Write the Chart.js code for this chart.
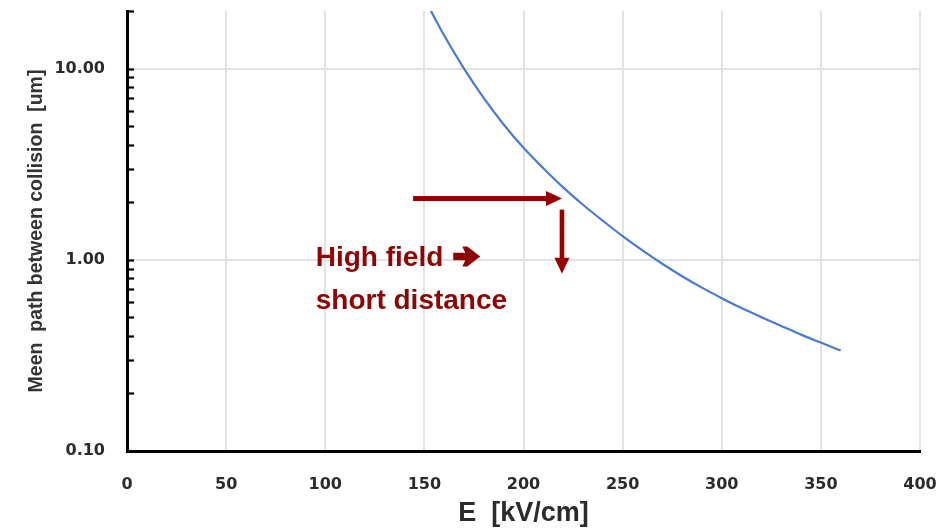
<!DOCTYPE html>
<html>
<head>
<meta charset="utf-8">
<script src="https://cdn.jsdelivr.net/npm/chart.js@4/dist/chart.umd.min.js"></script>
<style>
  html, body { margin: 0; padding: 0; background: #ffffff; }
  #wrap { width: 945px; height: 528px; }
</style>
</head>
<body>
<div id="wrap"><canvas id="c" width="945" height="528"></canvas></div>
<script>
// Electric field [kV/cm] and mean path between collisions [um]
const fieldKVcm = [153, 160, 170, 180, 190, 200, 210, 220, 230, 240, 250, 260, 270, 280, 290, 300, 310, 320, 330, 340, 350, 360];
const meanPathUm = [20.3, 14.9, 10.0, 7.0, 5.1, 3.85, 3.01, 2.39, 1.94, 1.60, 1.33, 1.12, 0.953, 0.82, 0.715, 0.63, 0.559, 0.501, 0.451, 0.406, 0.369, 0.335];

// Axis ranges and labelled ticks
const xMin = 0, xMax = 400, xStep = 50;
const yMin = 0.1, yMax = 20;
const yMajorTicks = [0.1, 1, 10];

// Callout: arrow from the field axis towards the curve, then down to the path value
const calloutY = 2.09;          // horizontal arrow height [um]
const calloutFrom = 144.3;      // arrow start [kV/cm]
const calloutAt = 219.4;        // arrow tip / drop point [kV/cm]
const dropFrom = 1.83, dropTo = 0.845;
const noteLines = ['High field', 'short distance'];
const noteX = 95.2;
const noteBaselines = [0.923, 0.552];

const RED = '#970000';
const TXT_RED = '#8e0505';

const minorTicks = {
  id: 'minorTicks',
  afterDatasetsDraw(chart) {
    const y = chart.scales.y, area = chart.chartArea, ctx = chart.ctx;
    ctx.save();
    ctx.strokeStyle = '#000';
    ctx.lineWidth = 2.2;
    for (const d of [0.1, 1, 10]) {
      for (let k = 1; k <= 9; k++) {
        const v = +(d * k).toPrecision(3);
        if (v <= yMin || v > yMax + 1e-9) continue;
        const py = Math.round(y.getPixelForValue(v)) + 0.5;
        ctx.beginPath();
        ctx.moveTo(area.left, py);
        ctx.lineTo(area.left + 7, py);
        ctx.stroke();
      }
    }
    ctx.restore();
  }
};

const callout = {
  id: 'callout',
  afterDraw(chart) {
    const xs = chart.scales.x, ys = chart.scales.y, ctx = chart.ctx;
    ctx.save();
    ctx.fillStyle = RED;

    // horizontal arrow
    const hy = ys.getPixelForValue(calloutY);
    const hx0 = xs.getPixelForValue(calloutFrom);
    const hx1 = xs.getPixelForValue(calloutAt);
    ctx.fillRect(hx0, hy - 2.5, (hx1 - 14) - hx0, 5);
    ctx.beginPath();
    ctx.moveTo(hx1, hy);
    ctx.lineTo(hx1 - 16, hy - 7.5);
    ctx.lineTo(hx1 - 16, hy + 7.5);
    ctx.closePath();
    ctx.fill();

    // vertical arrow
    const vx = xs.getPixelForValue(calloutAt);
    const vy0 = ys.getPixelForValue(dropFrom);
    const vy1 = ys.getPixelForValue(dropTo);
    ctx.fillRect(vx - 2.3, vy0, 4.6, (vy1 - 14) - vy0);
    ctx.beginPath();
    ctx.moveTo(vx, vy1);
    ctx.lineTo(vx - 7.5, vy1 - 16);
    ctx.lineTo(vx + 7.5, vy1 - 16);
    ctx.closePath();
    ctx.fill();

    // note text
    ctx.fillStyle = TXT_RED;
    ctx.font = 'bold 28px "Liberation Sans", Arial, sans-serif';
    ctx.textAlign = 'left';
    ctx.textBaseline = 'alphabetic';
    const tx = xs.getPixelForValue(noteX);
    noteLines.forEach((t, i) => ctx.fillText(t, tx, ys.getPixelForValue(noteBaselines[i])));

    // heavy right arrow after the first line
    const w = ctx.measureText(noteLines[0]).width;
    const ax = tx + w + 10;
    const ay = ys.getPixelForValue(noteBaselines[0]) - 10;
    ctx.beginPath();
    ctx.moveTo(ax, ay - 3.8);
    ctx.lineTo(ax + 12, ay - 3.8);
    ctx.lineTo(ax + 9, ay - 10);
    ctx.lineTo(ax + 14, ay - 10);
    ctx.lineTo(ax + 27, ay);
    ctx.lineTo(ax + 14, ay + 10);
    ctx.lineTo(ax + 9, ay + 10);
    ctx.lineTo(ax + 12, ay + 3.8);
    ctx.lineTo(ax, ay + 3.8);
    ctx.closePath();
    ctx.fill();
    ctx.restore();
  }
};

const tickFont = { family: '"DejaVu Sans", sans-serif', size: 16, weight: 'bold' };

new Chart(document.getElementById('c'), {
  type: 'line',
  data: {
    datasets: [{
      data: fieldKVcm.map((e, i) => ({ x: e, y: meanPathUm[i] })),
      borderColor: '#4a7bd0',
      borderWidth: 2.2,
      pointRadius: 0,
      cubicInterpolationMode: 'monotone',
      fill: false
    }]
  },
  options: {
    responsive: false,
    animation: false,
    devicePixelRatio: 1,
    layout: { padding: { top: 11, right: 25, bottom: 0, left: 0 } },
    plugins: { legend: { display: false }, tooltip: { enabled: false } },
    scales: {
      x: {
        type: 'linear',
        min: xMin, max: xMax,
        ticks: { stepSize: xStep, font: tickFont, color: '#2b2b2b', padding: 24, maxRotation: 0 },
        grid: { color: '#e2e2e2', lineWidth: 2, drawTicks: false },
        border: { color: '#000', width: 3 },
        title: {
          display: true,
          text: 'E  [kV/cm]',
          color: '#2b2b2b',
          font: { family: '"Liberation Sans", Arial, sans-serif', size: 27, weight: 'bold', lineHeight: 1.1 },
          padding: { top: 0, bottom: 0 }
        },
        afterFit(s) { s.height = 77; s.paddingLeft = 0; s.paddingRight = 0; }
      },
      y: {
        type: 'logarithmic',
        min: yMin, max: yMax,
        afterBuildTicks(s) { s.ticks = yMajorTicks.map(v => ({ value: v })); },
        ticks: {
          font: tickFont, color: '#2b2b2b', padding: 22,
          callback: v => Number(v).toFixed(2)
        },
        grid: { color: '#e2e2e2', lineWidth: 2, drawTicks: false },
        border: { color: '#000', width: 3 },
        title: {
          display: true,
          text: 'Meen  path between collision  [um]',
          color: '#333333',
          font: { family: '"Liberation Sans", Arial, sans-serif', size: 19.5, weight: 'bold' },
          padding: { top: 25, bottom: 0 }
        },
        afterFit(s) { s.width = 127; s.paddingTop = 0; s.paddingBottom = 0; }
      }
    }
  },
  plugins: [minorTicks, callout]
});
</script>
</body>
</html>
